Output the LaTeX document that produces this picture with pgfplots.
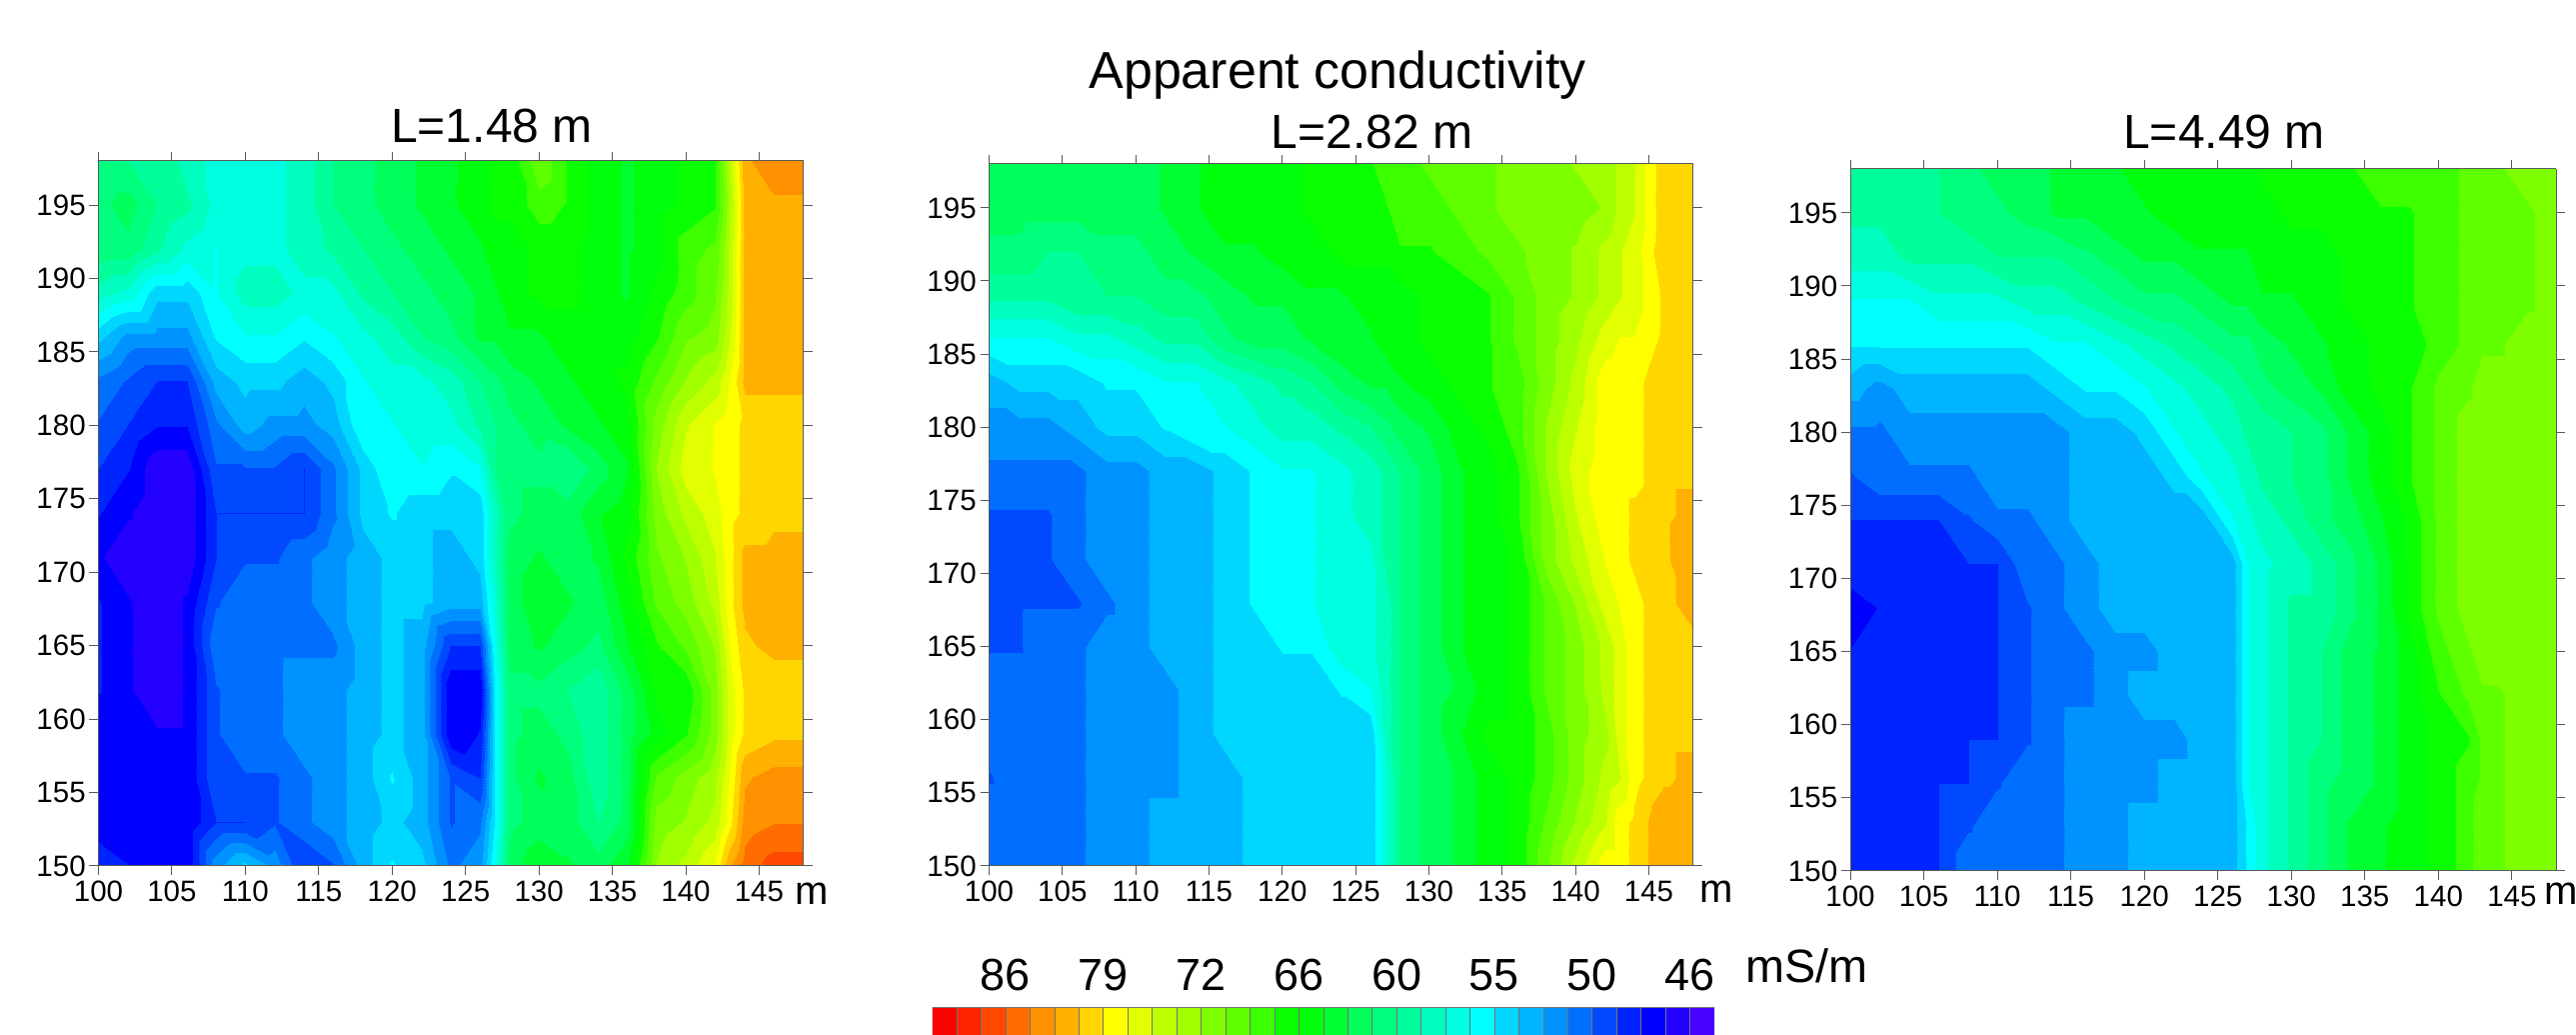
\documentclass[border=0pt]{standalone}
\usepackage{fontspec}
\setmainfont{Liberation Sans}
\usepackage{pgfplots}
\usepackage{pgfplotstable}
\pgfplotsset{compat=1.18}
\definecolor{c0}{RGB}{255,0,0}\definecolor{c1}{RGB}{255,36,0}\definecolor{c2}{RGB}{255,72,0}\definecolor{c3}{RGB}{255,109,0}
\definecolor{c4}{RGB}{255,145,0}\definecolor{c5}{RGB}{255,176,0}\definecolor{c6}{RGB}{255,214,0}\definecolor{c7}{RGB}{255,255,0}
\definecolor{c8}{RGB}{225,255,0}\definecolor{c9}{RGB}{190,255,0}\definecolor{c10}{RGB}{160,255,0}\definecolor{c11}{RGB}{125,255,0}
\definecolor{c12}{RGB}{95,255,0}\definecolor{c13}{RGB}{60,255,0}\definecolor{c14}{RGB}{10,255,0}\definecolor{c15}{RGB}{0,255,10}
\definecolor{c16}{RGB}{0,255,50}\definecolor{c17}{RGB}{0,255,90}\definecolor{c18}{RGB}{0,255,125}\definecolor{c19}{RGB}{0,255,155}
\definecolor{c20}{RGB}{0,255,190}\definecolor{c21}{RGB}{0,255,225}\definecolor{c22}{RGB}{0,255,255}\definecolor{c23}{RGB}{0,215,255}
\definecolor{c24}{RGB}{0,180,255}\definecolor{c25}{RGB}{0,146,255}\definecolor{c26}{RGB}{0,110,255}\definecolor{c27}{RGB}{0,73,255}
\definecolor{c28}{RGB}{0,36,255}\definecolor{c29}{RGB}{0,0,255}\definecolor{c30}{RGB}{36,0,255}\definecolor{c31}{RGB}{72,0,255}
\pgfplotsset{colormap={cond}{color=(c31) color=(c30) color=(c29) color=(c28) color=(c27) color=(c26) color=(c25) color=(c24)
 color=(c23) color=(c22) color=(c21) color=(c20) color=(c19) color=(c18) color=(c17) color=(c16)
 color=(c15) color=(c14) color=(c13) color=(c12) color=(c11) color=(c10) color=(c9) color=(c8)
 color=(c7) color=(c6) color=(c5) color=(c4) color=(c3) color=(c2) color=(c1) color=(c0)}}
\def\Xgrid{{100,102,104,106,108,110,112,114,116,118,120,122,124,126,127,128,130,132,134,136,138,140,142,143,144,146,148}}
\pgfplotstableread{
y 100 102 104 106 108 110 112 114 116 118 120 122 124 126 127 128 130 132 134 136 138 140 142 143 144 146 148
198 60 60 60 58 57 57 57 58 60 61 62 63 64 65 66 66 70 67 65 64 65 66 67 74 82 83 83
195 61 62 60 59 57 57 57 58 60 61 62 63 64 65 66 66 68 67 65 64 65 66 67 73 81 82 82
192 61 61 59 57 56 57 57 58 59 60 61 62 63 64 65 65 66 66 65 64 65 68 69 74 81 82 82
189 58 57 54 54 56 58 58 57 57 59 60 61 62 63 64 65 66 66 65 64 66 68 70 74 81 82 82
186 54 52 52 52 55 56 56 55 56 57 58 60 61 63 63 64 64 65 65 65 67 70 71 75 81 82 82
183 51 50 49 49 53 54 54 53 54 56 57 57 58 60 61 62 63 64 65 66 69 72 74 77 81 81 81
180 50 49 48 48 51 53 52 52 53 56 56 57 57 59 60 61 62 63 64 65 71 75 77 78 79 79 79
177 49 48 46 46 50 50 50 49 51 54 56 56 55 56 60 61 61 60 62 64 72 76 77 78 79 79 79
174 48 47 46 46 49 49 49 49 51 54 55 54 54 54 58 61 62 62 64 65 71 74 76 78 79 80 80
171 47 46 46 46 49 50 50 51 52 53 54 54 53 54 58 62 63 62 63 66 70 72 75 78 81 81 81
168 48 47 46 47 50 51 51 51 52 53 54 54 53 53 57 62 64 63 62 65 69 71 74 78 81 81 81
165 48 47 46 47 51 51 51 51 51 53 54 53 49 49 56 62 63 62 61 64 67 69 72 77 80 81 81
162 48 47 46 47 50 51 51 52 52 53 54 53 47 47 55 61 61 60 59 62 66 66 71 76 79 79 79
159 47 47 47 47 50 51 51 52 52 53 54 53 47 48 55 61 62 61 59 62 65 67 71 76 79 80 80
156 47 47 47 47 50 50 50 51 52 53 55 53 50 49 55 61 63 62 59 62 69 71 73 77 82 83 83
153 47 47 47 47 49 49 50 51 52 53 54 53 50 51 55 61 62 62 60 62 71 72 74 78 83 84 84
150 49 48 47 47 52 54 52 49 50 53 55 54 51 52 56 62 64 63 62 64 72 74 77 82 85 87 87
}\tableA
\pgfplotstableread{
y 100 102 104 106 108 110 112 114 116 118 120 122 124 126 127 128 130 132 134 136 138 140 142 143 144 146 148
198 62 62 62 62 62 62 63 64 65 65 65 66 67 67 68 68 69 69 70 71 71 72 72 74 75 80 80
195 62 62 62 62 62 62 63 64 65 65 65 66 66 67 67 68 68 69 70 71 71 71 72 74 75 80 80
192 61 61 60 60 61 61 62 63 64 64 65 65 66 66 66 67 67 68 69 70 71 72 74 75 76 80 80
189 59 59 59 60 60 60 61 61 62 63 63 64 64 65 65 65 66 66 67 69 71 72 74 75 76 79 80
186 56 56 56 57 57 58 59 59 61 62 62 63 64 64 65 65 66 66 67 69 71 73 76 77 77 79 80
183 53 54 54 54 55 55 56 56 57 58 59 60 62 63 63 64 65 66 67 68 71 74 78 78 78 80 80
180 52 52 52 53 54 54 55 56 56 57 58 58 59 60 61 62 63 65 66 68 72 75 78 78 78 80 80
177 51 51 51 51 52 52 53 53 54 55 56 56 57 58 59 60 62 64 65 67 72 76 78 78 78 80 80
174 50 50 50 51 52 52 53 53 54 55 55 56 57 58 59 60 62 64 65 67 71 75 78 78 79 80 81
171 50 50 50 51 52 52 53 53 54 55 55 56 57 57 59 60 62 64 65 66 71 74 77 78 79 80 82
168 50 50 50 50 51 52 53 53 54 55 55 56 57 57 58 60 62 64 65 66 69 72 76 77 78 80 81
165 50 50 51 51 52 52 53 53 54 54 55 55 57 57 58 60 62 64 65 66 69 71 74 76 78 80 80
162 51 51 51 51 52 52 52 53 54 54 54 54 55 56 58 60 62 63 65 66 69 71 74 76 78 80 80
159 51 51 51 51 52 52 52 53 54 54 54 54 54 54 58 60 62 64 66 66 68 71 73 76 78 80 80
156 50 51 51 51 52 52 52 53 53 54 54 54 54 54 57 60 62 63 65 66 68 71 74 75 78 80 81
153 51 51 51 51 52 52 53 53 53 54 54 54 54 54 57 60 62 63 65 66 69 72 75 78 79 82 82
150 51 51 51 51 52 52 53 53 53 54 54 54 54 54 57 60 62 63 65 66 70 74 78 78 79 82 82
}\tableB
\pgfplotstableread{
y 100 102 104 106 108 110 112 114 116 118 120 122 124 126 127 128 130 132 134 136 138 140 142 143 144 146 148
198 59 59 59 60 61 62 62 63 64 64 65 65 65 65 65 66 66 66 67 68 68 68 69 69 70 71 71
195 59 59 60 60 61 61 62 63 63 64 64 65 65 65 65 65 66 66 66 67 67 68 69 69 69 70 71
192 58 58 59 59 59 60 60 60 61 62 63 63 64 64 64 65 65 65 66 66 67 68 69 69 69 70 71
189 56 56 56 57 57 57 58 58 59 60 61 61 62 63 63 64 64 65 66 66 67 68 69 69 69 70 71
186 55 55 55 55 55 55 55 56 56 57 58 59 60 61 61 62 63 64 65 66 66 68 69 70 70 71 71
183 53 52 53 53 53 53 53 54 55 55 56 57 58 59 60 61 62 63 65 66 67 69 70 71 71 71 71
180 51 51 52 52 52 52 52 52 53 53 54 56 57 58 59 59 60 61 63 65 67 69 71 71 71 71 71
177 50 51 51 51 51 52 52 52 53 53 53 54 56 57 58 59 60 61 63 65 67 69 71 71 71 71 71
174 49 49 49 49 50 51 51 52 53 53 53 53 53 56 57 58 59 61 62 64 66 69 71 71 71 71 71
171 49 49 49 49 49 49 51 51 52 53 53 53 53 53 56 57 58 59 61 63 66 69 71 71 71 71 71
168 47 48 49 49 49 49 50 51 52 53 53 53 53 53 56 57 59 59 61 63 66 69 71 71 71 71 71
165 48 49 49 49 49 49 50 51 51 52 52 53 53 53 56 57 59 60 62 63 65 68 70 71 71 71 71
162 49 49 49 49 49 49 50 51 51 52 53 53 53 53 56 57 59 60 62 63 65 67 69 70 70 71 71
159 49 49 49 49 49 49 50 51 52 52 52 52 53 53 56 57 59 60 62 63 65 66 67 69 70 71 71
156 49 49 49 49 49 50 51 51 52 52 52 53 53 53 56 57 59 61 62 63 65 66 68 69 70 71 71
153 49 49 49 49 50 51 51 51 52 52 53 53 53 53 55 57 59 61 63 64 65 66 68 70 70 71 71
150 48 49 49 49 51 51 51 51 52 52 53 53 53 53 55 57 59 61 63 64 65 66 68 70 70 71 71
}\tableC
\newcommand\buildcoords[2]{\gdef#2{}%
 \foreach \r in {0,...,16}{\foreach \c in {1,...,27}{%
  \pgfplotstablegetelem{\r}{[index]0}\of#1\let\yv\pgfplotsretval
  \pgfplotstablegetelem{\r}{[index]\c}\of#1\let\zv\pgfplotsretval
  \pgfmathsetmacro\lz{ln(\zv)}%
  \pgfmathtruncatemacro\xv{\Xgrid[\c-1]}%
  \xdef#2{#2 (\xv,\yv,\zv) [\lz]}%
 }}}
\buildcoords\tableA\coordsA
\buildcoords\tableB\coordsB
\buildcoords\tableC\coordsC
\pgfplotsset{panel/.style={
  scale only axis, anchor=south west, view={0}{90},
  xmin=100,xmax=148,ymin=150,ymax=198,
  xtick={100,105,...,145}, ytick={150,155,...,195},
  tick align=outside, major tick length=3.6pt,
  xtick pos=both, ytick pos=both, xticklabel pos=bottom, yticklabel pos=left,
  tick style={gray!70!black,line width=0.4pt}, axis line style={gray!70!black,line width=0.4pt},
  every tick label/.style={font=\fontsize{11.8}{14}\selectfont},
  /pgf/number format/assume math mode=true,
  /pgf/number format/1000 sep={},
  xticklabel style={yshift=1.2pt}, yticklabel style={xshift=2pt},
  title style={font=\fontsize{19.2}{22}\selectfont},
  xlabel style={font=\fontsize{16}{18}\selectfont,anchor=center},
  colormap name=cond, point meta min=3.802, point meta max=4.522,
 },
 mapstyle/.style={contour filled={number=32}, mesh/cols=27, mesh/rows=17, point meta=explicit}}
\begin{document}
\begin{tikzpicture}[x=1pt,y=1pt]
\path[use as bounding box] (0,0) rectangle (1030.8,414);
\begin{axis}[panel, at={(39.4pt,67.6pt)}, width=282pt, height=282pt,
  title={L=1.48 m}, title style={xshift=16.4pt,yshift=-2.3pt},
  xlabel={m}, xlabel style={at={(axis description cs:1.012,-0.04)}}]
\edef\temp{\noexpand\addplot3[mapstyle] coordinates {\coordsA};}\temp
\end{axis}
\begin{axis}[panel, at={(395.8pt,67.6pt)}, width=281.6pt, height=280.8pt,
  title={L=2.82 m}, title style={xshift=12.4pt,yshift=-3.6pt},
  xlabel={m}, xlabel style={at={(axis description cs:1.033,-0.037)}}]
\edef\temp{\noexpand\addplot3[mapstyle] coordinates {\coordsB};}\temp
\end{axis}
\begin{axis}[panel, at={(740.4pt,65.6pt)}, width=282.4pt, height=280.8pt,
  title={L=4.49 m}, title style={xshift=8.4pt,yshift=-1.6pt},
  xlabel={m}, xlabel style={at={(axis description cs:1.007,-0.033)}}]
\edef\temp{\noexpand\addplot3[mapstyle] coordinates {\coordsC};}\temp
\end{axis}
\begin{axis}[scale only axis, anchor=south west, at={(373pt,0pt)}, width=313pt, height=11.2pt,
  xmin=0,xmax=32,ymin=0,ymax=1, ytick=\empty,
  xtick={3,7,11,15,19,23,27,31}, xticklabels={86,79,72,66,60,55,50,46},
  xtick pos=top, xticklabel pos=top, major tick length=0pt,
  axis line style={draw=none},
  every tick label/.style={font=\fontsize{18}{20}\selectfont},
  xticklabel style={yshift=3pt}]
\pgfplotsinvokeforeach{0,...,31}{
 \addplot[fill=c#1,draw=black!55,line width=0.2pt] coordinates {(#1,0)(#1,1)(#1+1,1)(#1+1,0)} -- cycle;
}
\end{axis}
\node[font=\fontsize{20.8}{24}\selectfont] at (535.2,384) {Apparent conductivity};
\node[font=\fontsize{18.7}{22}\selectfont] at (723,27.6) {mS/m};
\end{tikzpicture}
\end{document}
